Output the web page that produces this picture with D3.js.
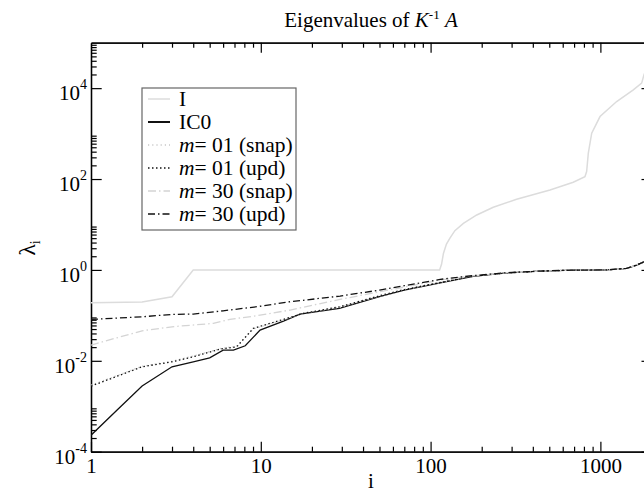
<html lang="en">
<head>
  <meta charset="UTF-8">
  <title>Eigenvalues of K^-1 A</title>
  <script src="https://d3js.org/d3.v7.min.js"></script>
</head>
<style>
  body { margin: 0; background: #fff; }
  svg text { font-family: "Liberation Serif", "Times New Roman", serif; fill: #000; }
  .axis .domain { stroke: #000; stroke-width: 1.3; }
  .axis line { stroke: #000; stroke-width: 1.2; }
</style>
<body>
  <svg class="eigsvg" width="644" height="493"></svg>
  <script>
    // series (i, lambda_i)
    const iI     = [1, 2, 3, 4, 113, 116, 119, 124, 130, 139, 156, 187, 234, 321, 505, 692, 811, 830, 849, 889, 995, 1247, 1563, 1750, 1805, 1900, 2000];
    const lamI   = [0.19, 0.196, 0.257, 1.0, 1.0, 1.33, 2.3, 3.7, 5.0, 7.3, 10.6, 16.2, 23.9, 35.9, 57.5, 85, 113, 146, 370, 1020, 2370, 5070, 9180, 12900, 19600, 32000, 50000];

    const iIC0   = [1, 1.42, 2, 3, 4, 5, 6, 6.9, 8.1, 9.9, 13.6, 17, 29, 50, 70, 114, 178, 281, 441, 692, 1089, 1428, 1637, 1806, 2000];
    const lamIC0 = [2.3e-4, 8.2e-4, 2.8e-3, 7.4e-3, 9.5e-3, 0.0116, 0.0172, 0.0172, 0.0214, 0.0475, 0.075, 0.107, 0.143, 0.26, 0.36, 0.52, 0.72, 0.86, 0.94, 0.99, 1.0, 1.08, 1.28, 1.51, 2.0];

    const iM01s  = [1, 2, 3, 4, 5.75, 7.21, 9.03, 13.6, 17.8, 29.3, 50, 70, 114, 178, 281, 441, 692, 1089, 1428, 1637, 1806, 2000];
    const lamM01s = [2.9e-3, 7.6e-3, 9.8e-3, 0.0127, 0.0185, 0.021, 0.050, 0.080, 0.109, 0.152, 0.265, 0.365, 0.53, 0.73, 0.86, 0.94, 0.99, 1.0, 1.08, 1.28, 1.51, 2.0];

    const iM01u  = [1, 2, 3, 4, 5.75, 7.21, 9.03, 13.6, 17.8, 29.3, 50, 70, 114, 178, 281, 441, 692, 1089, 1428, 1637, 1806, 2000];
    const lamM01u = [2.77e-3, 7.4e-3, 9.5e-3, 0.01226, 0.0181, 0.0203, 0.0517, 0.0816, 0.1106, 0.155, 0.27, 0.37, 0.53, 0.73, 0.86, 0.94, 0.99, 1.0, 1.08, 1.28, 1.51, 2.0];

    const iM30s  = [1, 2, 3, 5.25, 6.58, 9.46, 14.9, 29.3, 50, 70, 114, 178, 281, 441, 692, 1089, 1428, 1637, 1806, 2000];
    const lamM30s = [0.0222, 0.0458, 0.0561, 0.0666, 0.0816, 0.098, 0.131, 0.225, 0.33, 0.42, 0.60, 0.74, 0.87, 0.945, 0.99, 1.0, 1.08, 1.28, 1.51, 2.0];

    const iM30u  = [1, 2, 3, 4, 6, 9.46, 14.9, 29.3, 50, 70, 114, 178, 281, 441, 692, 1089, 1428, 1637, 1806, 2000];
    const lamM30u = [0.0816, 0.093, 0.105, 0.107, 0.126, 0.155, 0.1995, 0.266, 0.36, 0.45, 0.62, 0.75, 0.87, 0.945, 0.99, 1.0, 1.08, 1.28, 1.51, 2.0];

    // ticks
    const xMajor = [1, 10, 100, 1000];
    const xLabels = ['1', '10', '100', '1000'];
    const yMajorExp = [-4, -2, 0, 2, 4];
    const minorMult = [2, 3, 4, 5, 6, 7, 8, 9];

    const svg = d3.select('svg.eigsvg');
    const pLeft = 91, pRight = 651.5, pTop = 42.7, pBottom = 451.7;

    const x = d3.scaleLog().domain([1, 2000]).range([pLeft, pRight]);
    const y = d3.scaleLog().domain([1e-4, 1e5]).range([pBottom, pTop]);

    const xMinor = [];
    xMajor.forEach(m => minorMult.forEach(k => { if (m * k <= 2000) xMinor.push(m * k); }));
    const yMajor = yMajorExp.map(e => Math.pow(10, e));
    const yMinor = [];
    yMajor.forEach(m => minorMult.forEach(k => { if (m * k <= 1e5) yMinor.push(m * k); }));

    // axes (ticks pointing inward)
    function axisG(axis, tx, ty) {
      return svg.append('g').attr('class', 'axis')
        .attr('transform', `translate(${tx},${ty})`)
        .call(axis);
    }
    axisG(d3.axisBottom(x).tickValues(xMinor).tickSize(-5).tickSizeOuter(0).tickFormat(''), 0, pBottom);
    axisG(d3.axisTop(x).tickValues(xMinor).tickSize(-5).tickSizeOuter(0).tickFormat(''), 0, pTop);
    let bx = axisG(d3.axisBottom(x).tickValues(xMajor).tickSize(-10).tickSizeOuter(0).tickPadding(6)
      .tickFormat((d, i) => xLabels[i]), 0, pBottom);
    bx.selectAll('text').style('font-size', '21px');
    axisG(d3.axisTop(x).tickValues(xMajor.slice(1)).tickSize(-10).tickSizeOuter(0).tickFormat(''), 0, pTop);

    axisG(d3.axisLeft(y).tickValues(yMinor).tickSize(-5.7).tickSizeOuter(0).tickFormat(''), pLeft, 0);
    axisG(d3.axisLeft(y).tickValues(yMajor).tickSize(-10.7).tickSizeOuter(0).tickFormat(''), pLeft, 0);
    axisG(d3.axisRight(y).tickValues(yMajor).tickSize(-10).tickSizeOuter(0).tickFormat(''), pRight, 0);

    // y labels 10^e
    yMajorExp.forEach(e => {
      const t = svg.append('text')
        .attr('x', 87)
        .attr('y', y(Math.pow(10, e)) + 12)
        .attr('text-anchor', 'end')
        .style('font-size', '21px');
      t.append('tspan').text('10');
      t.append('tspan').attr('dy', -11).style('font-size', '14px').text(e);
    });

    // titles
    const title = svg.append('text').attr('x', 371).attr('y', 27)
      .attr('text-anchor', 'middle').style('font-size', '21px');
    title.append('tspan').text('Eigenvalues of ');
    title.append('tspan').style('font-style', 'italic').text('K');
    title.append('tspan').attr('dy', -8).style('font-size', '13px').text('-1');
    title.append('tspan').attr('dy', 8).text(' ');
    title.append('tspan').style('font-style', 'italic').text('A');

    svg.append('text').attr('x', 371).attr('y', 488)
      .attr('text-anchor', 'middle').style('font-size', '21px').text('i');

    const yl = svg.append('text')
      .attr('transform', 'translate(35,248) rotate(-90)')
      .attr('text-anchor', 'middle').style('font-size', '24px');
    yl.append('tspan').text('λ');
    yl.append('tspan').attr('dy', 5).style('font-size', '14px').text('i');

    // curves
    svg.append('clipPath').attr('id', 'plotclip')
      .append('rect').attr('x', pLeft).attr('y', pTop)
      .attr('width', pRight - pLeft).attr('height', pBottom - pTop);

    const line = d3.line().x(d => x(d[0])).y(d => y(d[1]));
    const series = [
      { name: 'I', xs: iI, ys: lamI, color: '#dcdcdc', dash: null, width: 1.5 },
      { name: 'IC0', xs: iIC0, ys: lamIC0, color: '#111', dash: null, width: 1.3 },
      { name: 'm01s', xs: iM01s, ys: lamM01s, color: '#c8c8c8', dash: '1.2,3', width: 1.3 },
      { name: 'm01u', xs: iM01u, ys: lamM01u, color: '#111', dash: '1.5,2.5', width: 1.3 },
      { name: 'm30s', xs: iM30s, ys: lamM30s, color: '#d4d4d4', dash: '8,3,1.5,3', width: 1.3 },
      { name: 'm30u', xs: iM30u, ys: lamM30u, color: '#111', dash: '7,3,1.5,3', width: 1.3 }
    ];
    const plot = svg.append('g').attr('clip-path', 'url(#plotclip)');
    series.forEach(s => {
      plot.append('path')
        .datum(s.xs.map((v, i) => [v, s.ys[i]]))
        .attr('d', line)
        .attr('fill', 'none')
        .attr('stroke', s.color)
        .attr('stroke-width', s.width)
        .attr('stroke-dasharray', s.dash);
    });

    // legend
    const legend = [
      { label: ['I'], idx: 0 },
      { label: ['IC0'], idx: 1 },
      { label: ['m', '= 01 (snap)'], idx: 2 },
      { label: ['m', '= 01 (upd)'], idx: 3 },
      { label: ['m', '= 30 (snap)'], idx: 4 },
      { label: ['m', '= 30 (upd)'], idx: 5 }
    ];
    const lg = svg.append('g');
    lg.append('rect').attr('x', 142).attr('y', 88).attr('width', 154).attr('height', 142)
      .attr('fill', '#fff').attr('stroke', '#666').attr('stroke-width', 1.2);
    legend.forEach((d, k) => {
      const s = series[d.idx];
      const cy = 99 + k * 23;
      lg.append('line').attr('x1', 148).attr('x2', 170).attr('y1', cy).attr('y2', cy)
        .attr('stroke', s.color).attr('stroke-width', s.name === 'IC0' ? 2 : 1.5)
        .attr('stroke-dasharray', s.dash);
      const t = lg.append('text').attr('x', 179).attr('y', cy + 7).style('font-size', '21.5px');
      if (d.label.length === 1) {
        t.text(d.label[0]);
      } else {
        t.append('tspan').style('font-style', 'italic').text(d.label[0]);
        t.append('tspan').text(d.label[1]);
      }
    });
  </script>
</body>
</html>
